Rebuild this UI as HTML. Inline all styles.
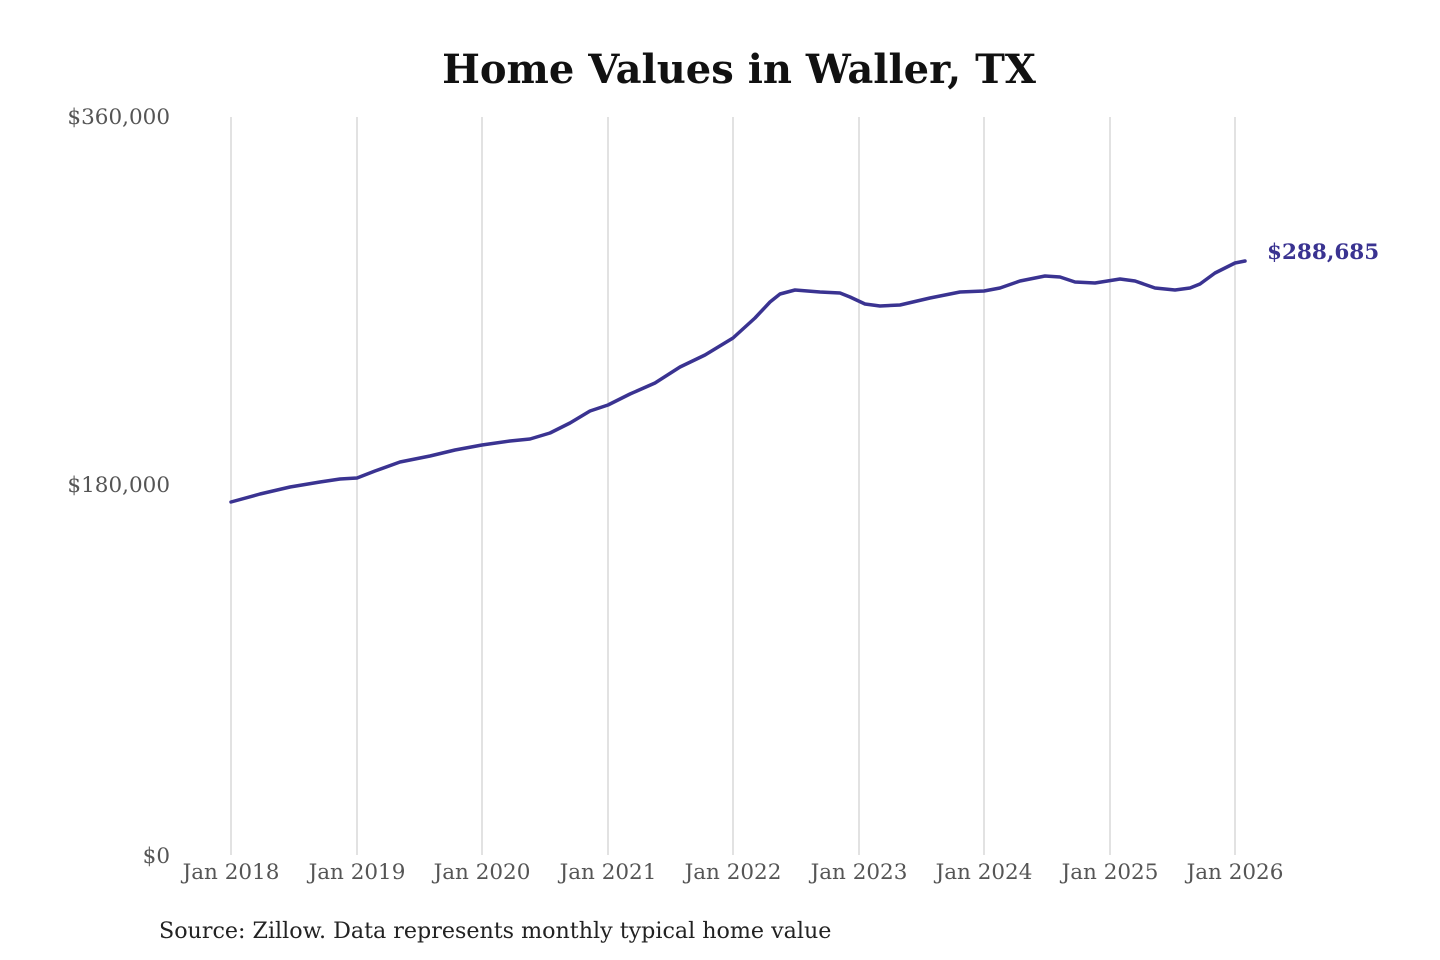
<!DOCTYPE html>
<html><head><meta charset="utf-8"><style>
html,body{margin:0;padding:0;background:#fff;}
svg{display:block;}
</style></head><body>
<svg width="1440" height="960" viewBox="0 0 1440 960" xmlns="http://www.w3.org/2000/svg">
<rect width="1440" height="960" fill="#fff"/>
<text x="739" y="83" text-anchor="middle" font-family="DejaVu Serif, Liberation Serif, serif" font-weight="bold" font-size="40" fill="#111">Home Values in Waller, TX</text>
<g stroke="#c4c4c4" stroke-width="1">
<line x1="231" y1="117" x2="231" y2="855"/>
<line x1="357" y1="117" x2="357" y2="855"/>
<line x1="482" y1="117" x2="482" y2="855"/>
<line x1="608" y1="117" x2="608" y2="855"/>
<line x1="733" y1="117" x2="733" y2="855"/>
<line x1="859" y1="117" x2="859" y2="855"/>
<line x1="984" y1="117" x2="984" y2="855"/>
<line x1="1110" y1="117" x2="1110" y2="855"/>
<line x1="1235" y1="117" x2="1235" y2="855"/>
</g>
<g font-family="DejaVu Serif, Liberation Serif, serif" font-size="21.5" fill="#555">
<text x="170" y="124" text-anchor="end">$360,000</text>
<text x="170" y="492" text-anchor="end">$180,000</text>
<text x="170" y="863" text-anchor="end">$0</text>
<g text-anchor="middle">
<text x="231" y="879">Jan 2018</text>
<text x="357" y="879">Jan 2019</text>
<text x="482" y="879">Jan 2020</text>
<text x="608" y="879">Jan 2021</text>
<text x="733" y="879">Jan 2022</text>
<text x="859" y="879">Jan 2023</text>
<text x="984" y="879">Jan 2024</text>
<text x="1110" y="879">Jan 2025</text>
<text x="1235" y="879">Jan 2026</text>
</g>
</g>
<polyline fill="none" stroke="#3a3391" stroke-width="3.5" stroke-linejoin="round" stroke-linecap="round"
points="231,502 260,494 290,487 320,482 340,479 357,478 375,471 400,462 430,456 455,450 482,445 510,441 530,439 550,433 570,423 590,411 608,405 630,394 655,383 680,367 705,355 733,338 755,318 770,302 780,294 795,290 820,292 840,293 850,297 865,304 880,306 900,305 930,298 960,292 984,291 1000,288 1020,281 1045,276 1060,277 1075,282 1095,283 1120,279 1135,281 1155,288 1175,290 1190,288 1200,284 1215,273 1235,263 1245,261"/>
<text x="1267" y="259" font-family="DejaVu Serif, Liberation Serif, serif" font-weight="bold" font-size="21.5" fill="#3a3391">$288,685</text>
<text x="159" y="938" font-family="DejaVu Serif, Liberation Serif, serif" font-size="22.2" fill="#222">Source: Zillow. Data represents monthly typical home value</text>
</svg>
</body></html>
